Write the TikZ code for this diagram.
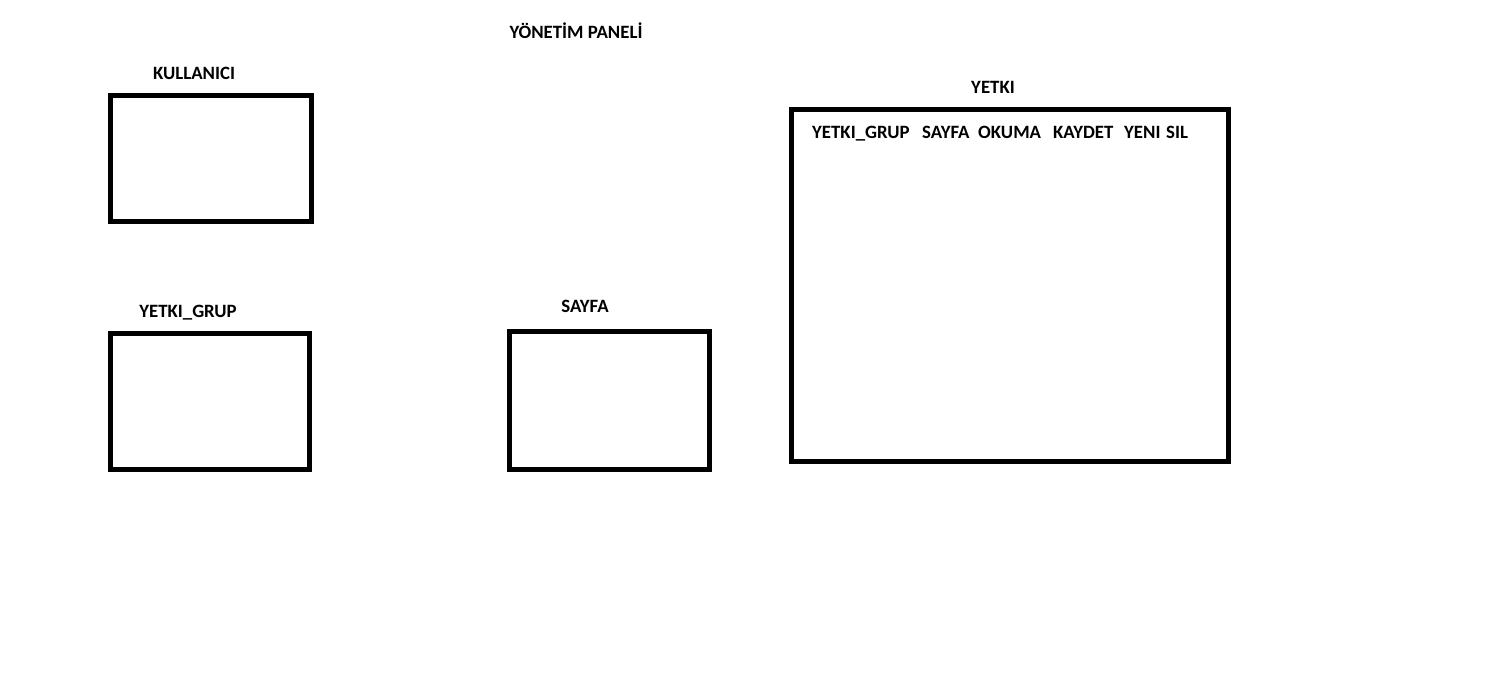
\documentclass[tikz,border=0pt]{standalone}
\usepackage{fontspec}
\setmainfont{Carlito}
\usepackage{tikz}
\usetikzlibrary{positioning}
\tikzset{
  tbl/.style={draw=black,line width=5pt,minimum width=#1,inner sep=0pt},
  ttl/.style={font=\bfseries\fontsize{18.8}{23}\selectfont,inner sep=0pt,anchor=base}
}

\begin{document}
\begin{tikzpicture}[x=1pt,y=-1pt]
\useasboundingbox (0,0) rectangle (1509,677);
\node[ttl] (panel) at (576,39) {YÖNETİM PANELİ};
% tables
\node[tbl=201,minimum height=126] (kullanici) at (210.5,158) {};
\node[tbl=199,minimum height=136] (grup) at (209.5,401) {};
\node[tbl=200,minimum height=138] (sayfa) at (609,400) {};
\node[tbl=437,minimum height=352] (yetki) at (1009.5,285) {};
% titles
\node[ttl] (kullaniciT) at (194,79) {KULLANICI};
\node[ttl] (grupT) at (188,317) {YETKI\_GRUP};
\node[ttl] (sayfaT) at (585,312) {SAYFA};
\node[ttl] (yetkiT) at (993,93) {YETKI};
% columns of YETKI
\foreach \x/\alan/\ad in {812/YETKI\_GRUP/f1, 922/SAYFA/f2, 978/OKUMA/f3,
    1053/KAYDET/f4, 1124/YENI/f5, 1166/SIL/f6}
  \node[ttl,anchor=base west] (\ad) at (\x,138) {\alan};
\end{tikzpicture}
\end{document}
